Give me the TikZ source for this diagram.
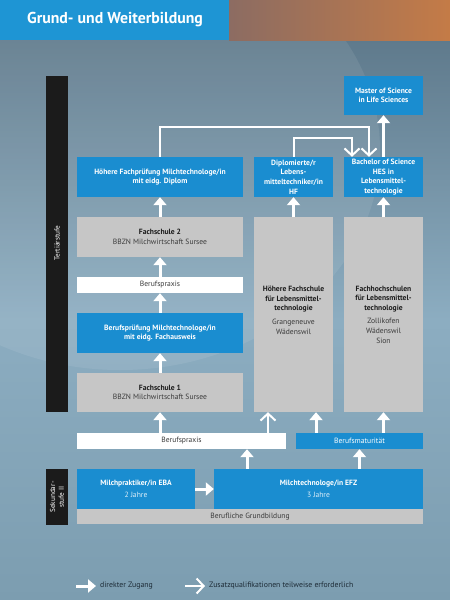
\documentclass[tikz,border=0pt]{standalone}
\usepackage{fontspec}
\setmainfont{PT Sans}
\usetikzlibrary{arrows.meta,calc}
\definecolor{hblue}{HTML}{1E95D4}
\definecolor{bblue}{HTML}{1A8DD0}
\definecolor{bgray}{HTML}{C6C6C6}
\definecolor{bgtop}{HTML}{5F7A8C}
\definecolor{bgmid}{HTML}{8CADC1}
\definecolor{bgbot}{HTML}{7C9DB0}
\definecolor{copL}{HTML}{8C6C62}
\definecolor{copR}{HTML}{C47B47}
\definecolor{bar}{HTML}{1B1B1B}
\definecolor{dtext}{HTML}{1C1C1C}
\definecolor{stext}{HTML}{3A3A3A}
\definecolor{ltext}{HTML}{1D2B36}
\begin{document}
\begin{tikzpicture}[x=1pt,y=-1pt,
  boxbase/.style={rectangle,inner sep=0pt,align=center,font=\fontsize{7.6}{9.6}\selectfont},
  bluebox/.style={boxbase,fill=bblue,text=white},
  graybox/.style={boxbase,fill=bgray,text=dtext},
  whitebox/.style={boxbase,fill=white,text=dtext},
  barbox/.style={rectangle,inner sep=0pt,fill=bar},
  barlabel/.style={rotate=90,text=white,inner sep=0pt,align=center,font=\fontsize{7.2}{8.6}\selectfont},
  arr/.style={white,line width=3pt,-{Triangle[width=13pt,length=8pt]}},
  openarr/.style={white,line width=2pt,-{Straight Barb[width=15pt,length=7pt]}},
  legtext/.style={anchor=west,inner sep=0pt,text=ltext,font=\fontsize{7.8}{9}\selectfont}
]
\useasboundingbox (0,0) rectangle (450,600);
% background
\shade[top color=bgtop,bottom color=bgbot,middle color=bgmid] (0,40) rectangle (450,600);
\fill[white,opacity=0.08] (120,150) ellipse (260 and 220);
% header
\fill[hblue] (0,0) rectangle (229,40);
\shade[left color=copL,right color=copR] (229,0) rectangle (450,40);
\node[anchor=west,inner sep=0pt,text=white,font=\fontsize{15.8}{17}\selectfont\bfseries] (title) at (27,20) {Grund- und Weiterbildung};

% level bars
\node[barbox,minimum width=22pt,minimum height=336pt] (tert) at (57,244) {};
\node[barlabel] (tertl) at (57,243) {Tertiärstufe};
\node[barbox,minimum width=22pt,minimum height=56pt] (sek) at (57,497) {};
\node[barlabel] (sekl) at (57,497) {Sekundar-\\stufe II};

% boxes
\node[bluebox,minimum width=79pt,minimum height=39pt] (master) at (383.5,95.5) {\textbf{Master of Science}\\\textbf{in Life Sciences}};
\node[bluebox,minimum width=166pt,minimum height=40pt] (hfp) at (160,177) {\textbf{Höhere Fachprüfung Milchtechnologe/in}\\\textbf{mit eidg. Diplom}};
\node[bluebox,minimum width=79pt,minimum height=40pt] (dipl) at (293.5,177) {\textbf{Diplomierte/r}\\\textbf{Lebens-}\\\textbf{mitteltechniker/in}\\\textbf{HF}};
\node[bluebox,minimum width=79pt,minimum height=40pt] (bach) at (383.5,177) {\textbf{Bachelor of Science}\\\textbf{HES in}\\\textbf{Lebensmittel-}\\\textbf{technologie}};
\node[graybox,minimum width=166pt,minimum height=40pt] (fs2) at (160,237) {\textbf{Fachschule 2}\\\textcolor{stext}{BBZN Milchwirtschaft Sursee}};
\node[whitebox,minimum width=166pt,minimum height=16pt] (bp1) at (160,285) {\textcolor{stext}{Berufspraxis}};
\node[bluebox,minimum width=166pt,minimum height=40pt] (bpr) at (160,333) {\textbf{Berufsprüfung Milchtechnologe/in}\\\textbf{mit eidg. Fachausweis}};
\node[graybox,minimum width=166pt,minimum height=39pt] (fs1) at (160,392.5) {\textbf{Fachschule 1}\\\textcolor{stext}{BBZN Milchwirtschaft Sursee}};
\node[graybox,minimum width=79pt,minimum height=195pt] (hf) at (293.5,314.5) {\textbf{Höhere Fachschule}\\\textbf{für Lebensmittel-}\\\textbf{technologie}\\[4pt]\textcolor{stext}{Grangeneuve}\\\textcolor{stext}{Wädenswil}\\[-1pt]};
\node[graybox,minimum width=79pt,minimum height=195pt] (fh) at (383.5,314.5) {\textbf{Fachhochschulen}\\\textbf{für Lebensmittel-}\\\textbf{technologie}\\[4pt]\textcolor{stext}{Zollikofen}\\\textcolor{stext}{Wädenswil}\\\textcolor{stext}{Sion}};
\node[whitebox,minimum width=209pt,minimum height=16pt] (bp2) at (181.5,441) {\textcolor{stext}{Berufspraxis}};
\node[bluebox,minimum width=127pt,minimum height=16pt] (bm) at (359.5,441) {Berufsmaturität};
\node[bluebox,minimum width=118pt,minimum height=40pt] (mp) at (136,489) {\textbf{Milchpraktiker/in EBA}\\[3pt]\textcolor{white!85!bblue}{2 Jahre}};
\node[bluebox,minimum width=209pt,minimum height=40pt] (mt) at (318.5,489) {\textbf{Milchtechnologe/in EFZ}\\[3pt]\textcolor{white!85!bblue}{3 Jahre}};
\node[graybox,minimum width=346pt,minimum height=15pt] (bg) at (250,516.5) {\textcolor{stext}{Berufliche Grundbildung}};

% helper coordinates
\coordinate (xa) at (268,0);
\coordinate (xb) at (316,0);
\coordinate (xc) at (247,0);
\coordinate (k1) at (369,127);
\coordinate (k2) at (352,138);

% arrows
\draw[arr] (fs2.north) -- (hfp.south);
\draw[arr] (bp1.north) -- (fs2.south);
\draw[arr] (bpr.north) -- (bp1.south);
\draw[arr] (fs1.north) -- (bpr.south);
\draw[arr] (bp2.north -| fs1.south) -- (fs1.south);
\draw[openarr] (bp2.north -| xa) -- (hf.south -| xa);
\draw[arr] (bm.north -| xb) -- (hf.south -| xb);
\draw[arr] (bm.north -| fh.south) -- (fh.south);
\draw[arr] (mt.north -| xc) -- (bp2.south -| xc);
\draw[arr] (mt.north -| bm.south) -- (bm.south);
\draw[arr] (mp.east) -- (mt.west);
\draw[arr] (hf.north) -- (dipl.south);
\draw[arr] (fh.north) -- (bach.south);
\draw[arr] (bach.north) -- (master.south);
\draw[openarr] (hfp.north) |- (k1) -- (k1 |- bach.north);
\draw[openarr] (dipl.north) |- (k2) -- (k2 |- bach.north);

% legend
\coordinate (l1a) at (76,586);
\coordinate (l1b) at (96,586);
\coordinate (l2a) at (185,586);
\coordinate (l2b) at (205,586);
\draw[arr] (l1a) -- (l1b);
\node[legtext] (leg1) at (100,586) {direkter Zugang};
\draw[openarr] (l2a) -- (l2b);
\node[legtext] (leg2) at (209,586) {Zusatzqualifikationen teilweise erforderlich};
\end{tikzpicture}
\end{document}
